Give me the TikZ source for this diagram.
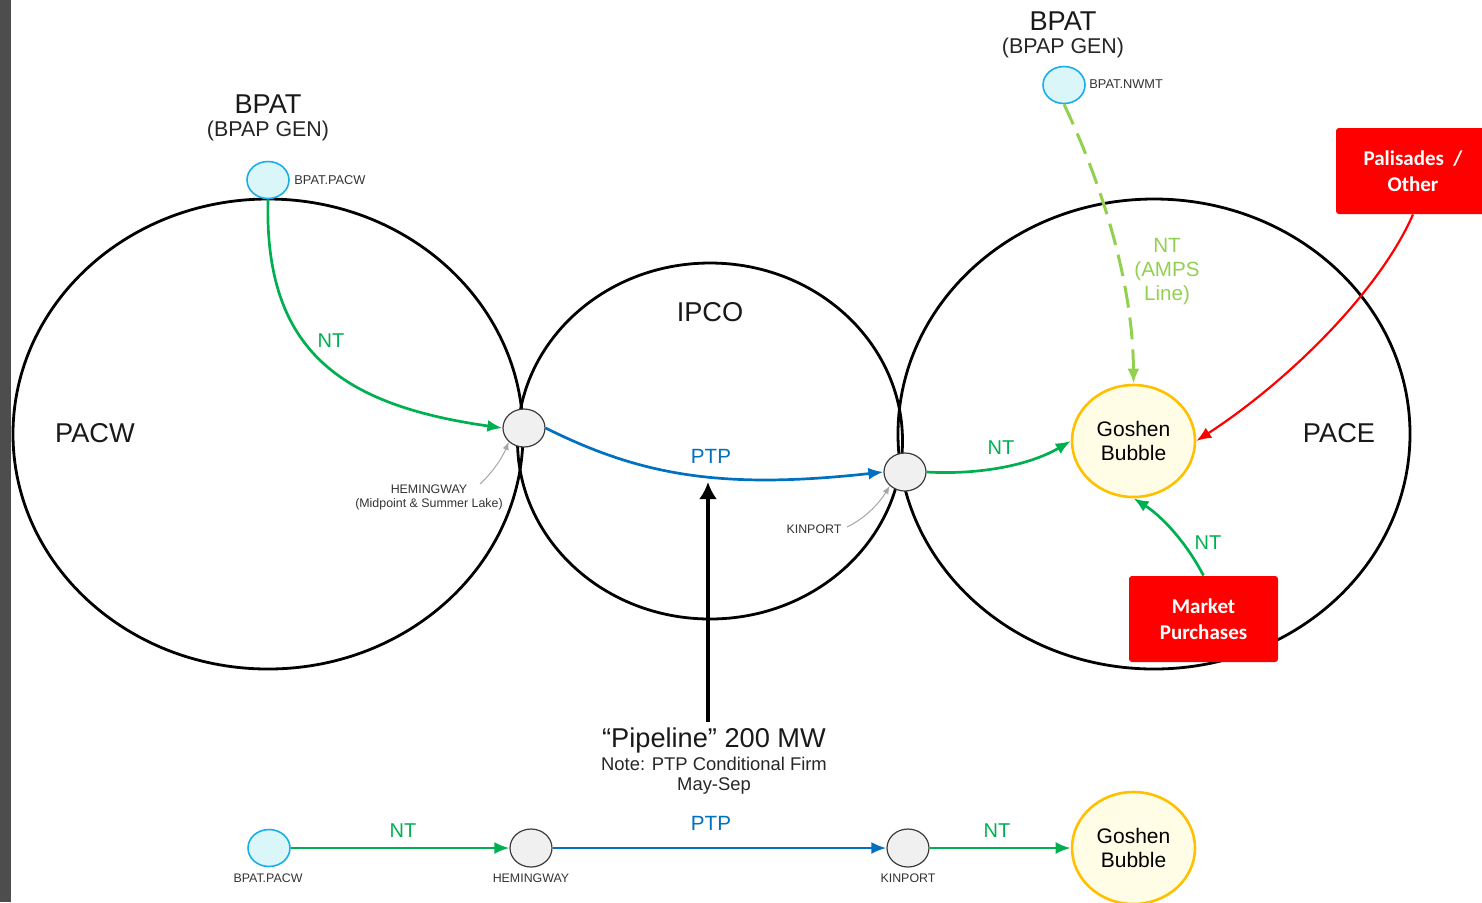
\documentclass[tikz,border=0pt]{standalone}
\usepackage{fontspec}
\setmainfont{Liberation Sans}
\newfontfamily\boxfont{Carlito}
\usepackage{xcolor}
\usepackage{tikz}
\usetikzlibrary{arrows.meta}
\usetikzlibrary{shapes.geometric}
\definecolor{ntgreen}{HTML}{00B050}
\definecolor{ptpblue}{HTML}{0070C0}
\definecolor{ampsgreen}{HTML}{92D050}
\definecolor{srcblue}{HTML}{1AAEE8}
\definecolor{srcfill}{HTML}{DAF6F8}
\definecolor{bubblegold}{HTML}{FFC000}
\definecolor{bubblefill}{HTML}{FFFDE6}
\definecolor{hubfill}{HTML}{F0F0F0}
\definecolor{hubdraw}{HTML}{3C3C3C}
\definecolor{stripgray}{HTML}{4D4D4D}
\tikzset{
    tnode/.style = {align=center, inner sep=0pt, text centered},
    region/.style = {tnode, ellipse, draw=black, line width=1.4pt},
    src_node/.style = {tnode, ellipse, draw=srcblue, fill=srcfill, line width=0.8pt, minimum width=21pt, minimum height=18.5pt},
    hub_node/.style = {tnode, ellipse, draw=hubdraw, fill=hubfill, line width=0.6pt, minimum width=21pt, minimum height=19pt},
    bubble_node/.style = {tnode, ellipse, draw=bubblegold, fill=bubblefill, line width=1.3pt, minimum width=61.5pt, minimum height=56pt, font=\fontsize{10.5}{12}\selectfont},
    red_box/.style = {tnode, rectangle, rounded corners=1.5pt, fill=red, text=white, minimum height=43pt, font=\boxfont\bfseries\fontsize{10.5}{13}\selectfont}
}
\tikzset{
    big_lbl/.style = {tnode, font=\fontsize{13.6}{16}\selectfont, text=black!90},
    gen_lbl/.style = {tnode, font=\fontsize{10.7}{13}\selectfont, text=black!85},
    pt_lbl/.style = {tnode, font=\fontsize{6.2}{7}\selectfont, text=black!80},
    src_lbl/.style = {pt_lbl, font=\fontsize{6.4}{7}\selectfont},
    nt_lbl/.style = {tnode, text=ntgreen, font=\fontsize{10}{12}\selectfont},
    ptp_lbl/.style = {tnode, text=ptpblue, font=\fontsize{10.3}{12}\selectfont},
    amps_lbl/.style = {tnode, text=ampsgreen, font=\fontsize{10.3}{12}\selectfont},
    nt_line/.style = {->, draw=ntgreen, line width=1.35pt},
    ptp_line/.style = {->, draw=ptpblue, line width=1.35pt},
    amps_line/.style = {->, draw=ampsgreen, line width=1.5pt, dash pattern=on 11pt off 5pt},
    other_line/.style = {->, draw=red, line width=1.1pt},
    pointer/.style = {-{Latex[length=4pt,width=3.2pt]}, draw=black!35, line width=0.5pt},
    pipe_line/.style = {-{Latex[length=8.5pt,width=9pt]}, draw=black, line width=2.3pt}
}
\begin{document}
\begin{tikzpicture}[-,>={Latex[length=7.5pt,width=6pt]}, x=0.5pt, y=-0.5pt]
    \useasboundingbox (0,0) rectangle (1482,902);
    \fill[stripgray] (0,0) rectangle (11,902);
    % balancing areas
    \node[region, minimum width=255pt, minimum height=235pt] (pacw) at (268,434) {};
    \node[region, minimum width=192.5pt, minimum height=178pt] (ipco) at (710,441) {};
    \node[region, minimum width=256pt, minimum height=235pt] (pace) at (1154,434) {};
    \node[big_lbl] (pacw_lbl) at (95,433) {PACW};
    \node[big_lbl] (ipco_lbl) at (710,312) {IPCO};
    \node[big_lbl] (pace_lbl) at (1339,433) {PACE};
    % generation
    \node[big_lbl] (bpat_w) at (268,104) {BPAT};
    \node[gen_lbl] (gen_w) at (268,131) {(BPAP GEN)};
    \node[big_lbl] (bpat_e) at (1063,21) {BPAT};
    \node[gen_lbl] (gen_e) at (1063,48) {(BPAP GEN)};
    \node[src_node] (pacw_src) at (268,180) {};
    \node[src_lbl, anchor=west] (pacw_src_lbl) at (294,180) {BPAT.PACW};
    \node[src_node] (nwmt_src) at (1064,85) {};
    \node[src_lbl, anchor=west] (nwmt_src_lbl) at (1089,84) {BPAT.NWMT};
    % points of delivery
    \node[hub_node] (hem) at (524,428) {};
    \node[pt_lbl] (hem_lbl) at (429,497) {HEMINGWAY\\(Midpoint \& Summer Lake)};
    \node[hub_node] (kin) at (905,472) {};
    \node[pt_lbl] (kin_lbl) at (814,529) {KINPORT};
    \node[bubble_node] (goshen) at (1133.5,441) {Goshen\\Bubble};
    \node[red_box, minimum width=77pt] (palisades) at (1413,171) {Palisades\ \ /\\Other};
    \node[red_box, minimum width=74.5pt] (market) at (1203.5,619) {Market\\Purchases};
    % paths
    \draw[nt_line] (pacw_src.south) .. controls (264,350) and (340,405) .. (hem.west);
    \draw[ptp_line] (hem.east) .. controls (640,475) and (720,490) .. (kin.west);
    \draw[nt_line] (kin.east) .. controls (980,475) and (1030,465) .. (goshen.west);
    \draw[amps_line] (nwmt_src.south) .. controls (1100,180) and (1133,280) .. (goshen.north);
    \draw[other_line] (palisades.south) .. controls (1380,290) and (1290,380) .. (goshen.east);
    \draw[nt_line] (market.north) .. controls (1185,540) and (1160,515) .. (goshen.south);
    \node[nt_lbl] (nt_w) at (331,341) {NT};
    \node[ptp_lbl] (ptp_mid) at (711,456) {PTP};
    \node[nt_lbl] (nt_kin) at (1001,448) {NT};
    \node[nt_lbl] (nt_mkt) at (1208,543) {NT};
    \node[amps_lbl] (amps_lbl) at (1167,272) {NT\\(AMPS\\Line)};
    \coordinate (hem_tail) at (480,484);
    \coordinate (kin_tail) at (847,527);
    \draw[pointer] (hem_tail) .. controls (494,471) and (503,456) .. (hem.south west);
    \draw[pointer] (kin_tail) .. controls (866,518) and (880,502) .. (kin.south west);
    % pipeline
    \coordinate (pipe_foot) at (708,722);
    \coordinate (pipe_head) at (708,482);
    \draw[pipe_line] (pipe_foot) -- (pipe_head);
    \node[big_lbl] (pipe_lbl) at (714,740) {“Pipeline” 200 MW};
    \node[tnode, font=\fontsize{9.2}{10}\selectfont, text=black!85] (note_lbl) at (714,776) {Note: PTP Conditional Firm\\May-Sep};
    % summary row
    \node[src_node] (pacw_src2) at (269,848) {};
    \node[hub_node] (hem2) at (531,848) {};
    \node[hub_node] (kin2) at (908,848) {};
    \node[bubble_node] (goshen2) at (1133.5,848) {Goshen\\Bubble};
    \node[pt_lbl] (pacw_src2_lbl) at (268,878) {BPAT.PACW};
    \node[pt_lbl] (hem2_lbl) at (531,878) {HEMINGWAY};
    \node[pt_lbl] (kin2_lbl) at (908,878) {KINPORT};
    \draw[nt_line] (pacw_src2.east) -- (hem2.west);
    \draw[ptp_line] (hem2.east) -- (kin2.west);
    \draw[nt_line] (kin2.east) -- (goshen2.west);
    \node[nt_lbl] (nt_row1) at (403,831) {NT};
    \node[ptp_lbl] (ptp_row) at (711,823) {PTP};
    \node[nt_lbl] (nt_row2) at (997,831) {NT};
\end{tikzpicture}
\end{document}
